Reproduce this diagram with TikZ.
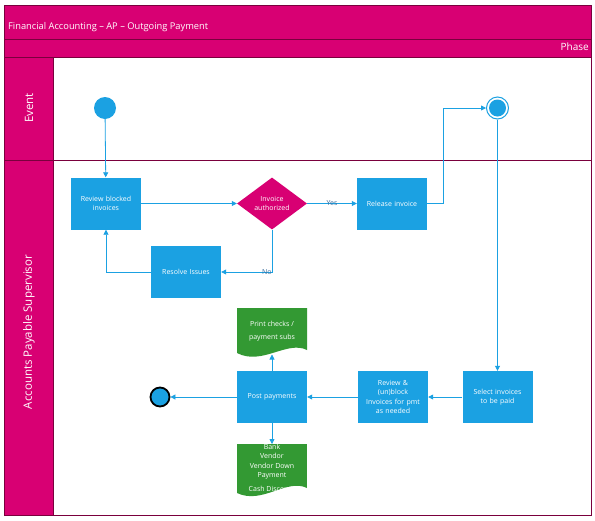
\documentclass[tikz,border=0pt]{standalone}
\usepackage{fontspec}
\setmainfont{Open Sans}
\usetikzlibrary{arrows.meta,shapes.geometric,calc}
\definecolor{mag}{HTML}{D80073}
\definecolor{blu}{HTML}{1BA1E2}
\definecolor{grn}{HTML}{339933}
\definecolor{dk}{HTML}{7A003D}
\definecolor{lbl}{HTML}{3B6E9E}
\begin{document}
\begin{tikzpicture}[x=1pt,y=-1pt,
  proc/.style={fill=blu,minimum width=70pt,minimum height=52pt,text width=66pt,align=center,text=white,inner sep=0pt,font=\fontsize{7}{9.2}\selectfont},
  conn/.style={draw=blu,line width=0.8pt,-{Triangle[length=5pt,width=5pt]}},
  lab/.style={text=lbl,font=\fontsize{7}{8}\selectfont,inner sep=0.5pt},
  hdr/.style={text=white,inner sep=0pt},
  doctext/.style={text=white,align=center,inner sep=0pt},
  frame/.style={draw=dk,line width=0.8pt}
]
\useasboundingbox (0,0) rectangle (595,520);
\fill[white] (0,0) rectangle (595,520);
% bands
\fill[mag] (4,5) rectangle (591,57);
\fill[mag] (4,57) rectangle (53,515);
\draw[frame] (4,5) rectangle (591,515);
\draw[frame] (4,39) -- (591,39);
\draw[frame] (4,57) -- (591,57);
\draw[frame] (53,57) -- (53,515);
\draw[frame] (4,160) -- (591,160);
\node[hdr,anchor=west,font=\fontsize{9.3}{11}\selectfont] (title) at (8,27) {Financial Accounting – AP – Outgoing Payment};
\node[hdr,anchor=east,font=\fontsize{10}{11}\selectfont] (phase) at (589,47) {Phase};
\node[hdr,rotate=90,font=\fontsize{11.5}{13}\selectfont] (lane1) at (29,108) {Event};
\node[hdr,rotate=90,font=\fontsize{11.5}{13}\selectfont] (lane2) at (29,332) {Accounts Payable Supervisor};
% nodes
\node[circle,fill=blu,minimum size=22pt,inner sep=0pt] (start) at (105,108) {};
\node[proc] (rb) at (106,203.5) {Review blocked\\invoices};
\node[diamond,fill=mag,minimum width=70pt,minimum height=52pt,inner sep=0pt,text=white,align=center,font=\fontsize{7}{9.2}\selectfont] (dia) at (272,203.5) {Invoice\\authorized};
\node[proc] (rel) at (392,203.5) {Release invoice};
\node[circle,draw=blu,line width=1pt,fill=white,minimum size=22pt,inner sep=0pt] (evend) at (497.5,108) {};
\fill[blu] (evend.center) circle (8.5pt);
\node[proc] (res) at (186,272) {Resolve Issues};
\node[proc] (sel) at (497.5,397) {Select invoices\\to be paid};
\node[proc] (rev) at (393,397) {Review \&\\(un)block\\Invoices for pmt\\as needed};
\node[proc] (post) at (272,397) {Post payments};
\node[circle,draw=black,line width=1.8pt,fill=blu,minimum size=19pt,inner sep=0pt] (fin) at (160,397) {};
% documents
\fill[grn] (237,308) -- (307,308) -- (307,350) .. controls (287,340) and (262,366) .. (237,353) -- cycle;
\node[doctext,font=\fontsize{7}{13}\selectfont] (pc) at (272,331.5) {Print checks /\\payment subs};
\coordinate (pcb) at (272,354.5);
\begin{scope}
\clip (237,444) -- (307,444) -- (307,488) .. controls (287,478) and (262,505) .. (237,493) -- cycle;
\fill[grn] (237,444) rectangle (307,510);
\node[doctext,anchor=north,font=\fontsize{7}{9.4}\selectfont] (bank) at (272,444) {Bank\\Vendor\\Vendor Down\\Payment\\[4pt]Cash Discount};
\end{scope}
\coordinate (bkt) at (272,444);
% connectors
\draw[conn] (start) -- (rb);
\draw[conn] (rb) -- (dia);
\draw[conn] (dia) -- node[lab]{Yes} (rel);
\draw[conn] (rel.east) -- (443,203.5) |- (evend.west);
\draw[conn] (evend.south) -- (sel.north);
\draw[conn] (dia.south) |- node[lab,pos=0.55]{No} (res.east);
\draw[conn] (res.west) -| (rb.south);
\draw[conn] (sel) -- (rev);
\draw[conn] (rev) -- (post);
\draw[conn] (post) -- (fin);
\draw[conn] (post.north) -- (pcb);
\draw[conn] (post.south) -- (bkt);
\end{tikzpicture}
\end{document}
